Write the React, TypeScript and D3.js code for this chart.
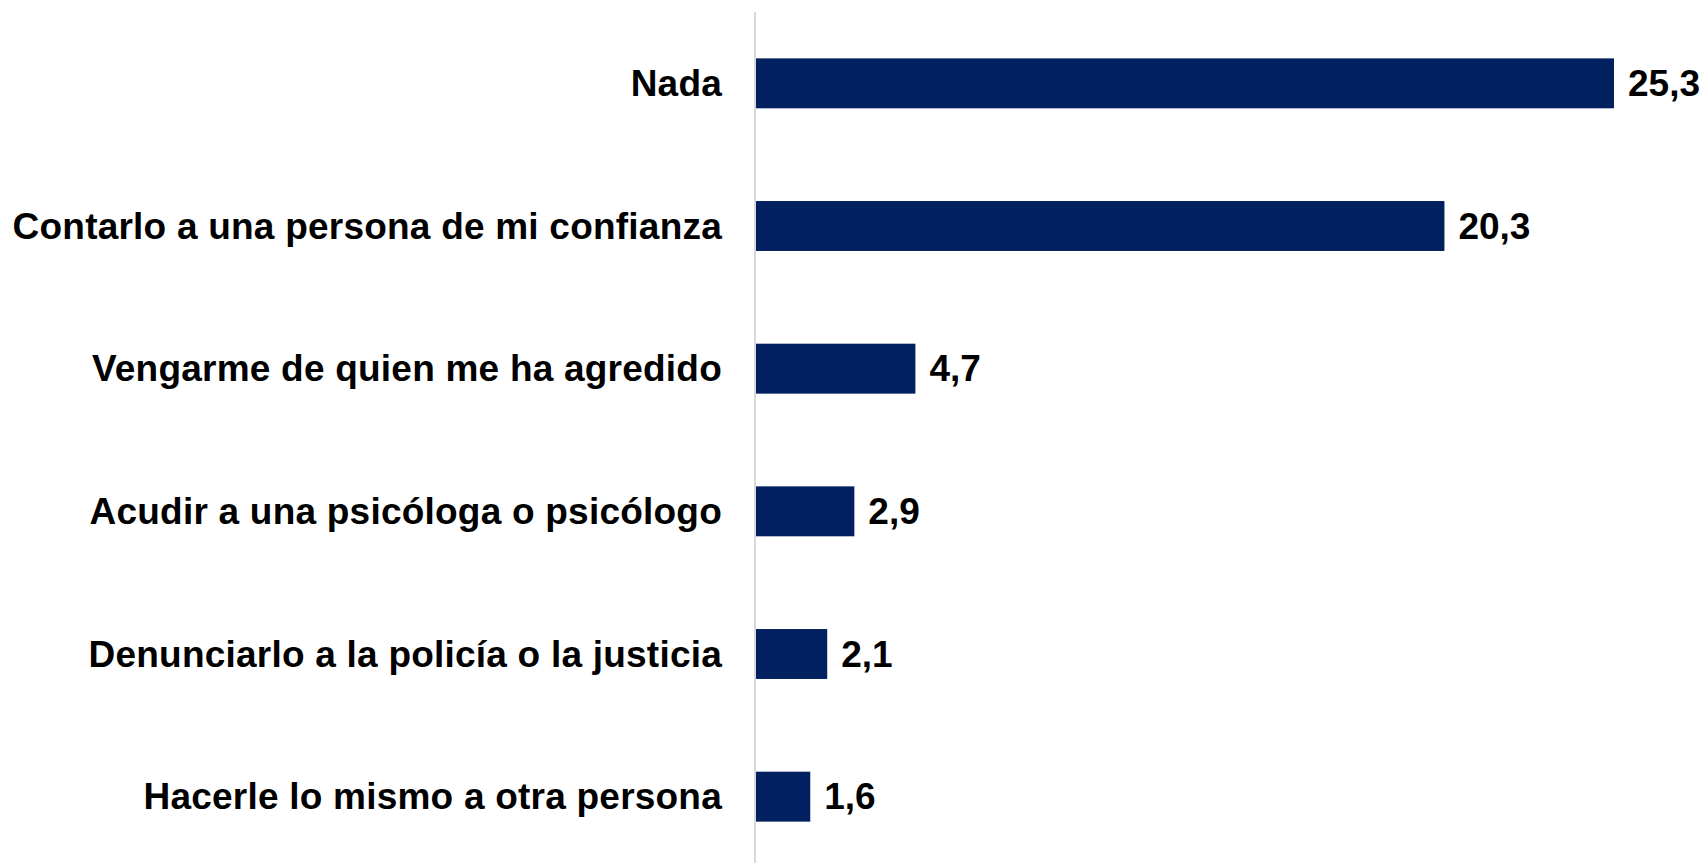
import { useEffect, useRef } from 'react'
import * as d3 from 'd3'

const W = 1706, H = 863
const AXIS_X = 756

const categories = [
  'Nada',
  'Contarlo a una persona de mi confianza',
  'Vengarme de quien me ha agredido',
  'Acudir a una psicóloga o psicólogo',
  'Denunciarlo a la policía o la justicia',
  'Hacerle lo mismo a otra persona',
]
const values = [25.3, 20.3, 4.7, 2.9, 2.1, 1.6]

const fmt = (v: number) => v.toFixed(1).replace('.', ',')

export default function App() {
  const svgRef = useRef<SVGSVGElement>(null)

  useEffect(() => {
    const svg = d3.select(svgRef.current!)
    svg.selectAll('*').remove()

    const y = d3.scaleBand<string>()
      .domain(categories)
      .range([12, 868])
      .paddingInner(0.65)
      .paddingOuter(0.325)

    const x = d3.scaleLinear().domain([0, 25.3]).range([AXIS_X, 1614])

    const font = '"Liberation Sans", Arial, sans-serif'

    // bars
    svg.append('g').selectAll('rect').data(values).join('rect')
      .attr('x', x(0))
      .attr('y', (_, i) => y(categories[i])!)
      .attr('width', d => x(d) - x(0))
      .attr('height', y.bandwidth())
      .attr('fill', '#00205f')

    // axis line
    svg.append('line')
      .attr('x1', AXIS_X - 1).attr('x2', AXIS_X - 1)
      .attr('y1', 12).attr('y2', H)
      .attr('stroke', '#d9d9d9').attr('stroke-width', 2)

    // category labels
    svg.append('g').selectAll('text').data(categories).join('text')
      .attr('x', AXIS_X - 34)
      .attr('y', d => y(d)! + y.bandwidth() / 2)
      .attr('text-anchor', 'end')
      .attr('dominant-baseline', 'central')
      .attr('font-family', font).attr('font-weight', 'bold').attr('font-size', 37)
      .attr('letter-spacing', 0.22)
      .attr('fill', '#000')
      .text(d => d)

    // value labels
    svg.append('g').selectAll('text').data(values).join('text')
      .attr('x', d => x(d) + 14)
      .attr('y', (_, i) => y(categories[i])! + y.bandwidth() / 2)
      .attr('dominant-baseline', 'central')
      .attr('font-family', font).attr('font-weight', 'bold').attr('font-size', 37)
      .attr('fill', '#000')
      .text(d => fmt(d))
  }, [])

  return (
    <div style={{ position: 'absolute', left: 0, top: 0 }}>
      <svg ref={svgRef} width={W} height={H} style={{ display: 'block', background: '#fff' }} />
    </div>
  )
}
